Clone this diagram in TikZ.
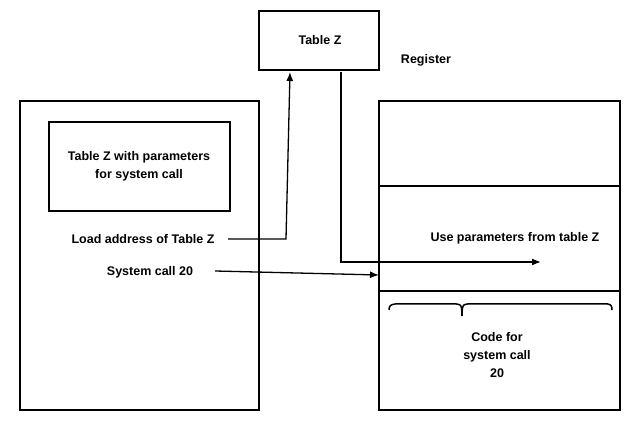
\documentclass[tikz,border=0pt]{standalone}
\usepackage{fontspec}
\setmainfont{Liberation Sans}
\usetikzlibrary{arrows.meta}
\begin{document}
\begin{tikzpicture}[x=1pt,y=-1pt,
  box/.style={draw,line width=1.5pt},
  lbl/.style={font=\bfseries\fontsize{12.5}{18}\selectfont,align=center},
  arr/.style={-{Latex[length=9pt,width=7pt]},line width=1.3pt}]
\useasboundingbox (0,0) rectangle (641,422);
\draw[box] (20,101) rectangle (259,410);
\draw[box] (49,122) rectangle (230,211);
\node[lbl] (tz) at (139,166) {Table Z with parameters\\for system call};
\node[lbl] (load) at (143,239) {Load address of Table Z};
\node[lbl] (sc) at (150,272) {System call 20};
\draw[box] (259,11) rectangle (379,70);
\node[lbl] (tabz) at (320,40) {Table Z};
\node[lbl] (reg) at (426,60) {Register};
\draw[box] (379,101) rectangle (620,410);
\draw[line width=1.5pt] (379,186) -- (620,186);
\draw[line width=1.5pt] (379,291) -- (620,291);
\node[lbl] (use) at (515,238) {Use parameters from table Z};
\node[lbl] (code) at (497,355) {Code for\\system call\\20};
\coordinate (a1) at (228,239);
\coordinate (a2) at (286,239);
\coordinate (a3) at (290,72);
\draw[arr] (a1) -- (a2) -- (a3);
\coordinate (b1) at (341,72);
\coordinate (b2) at (341,262);
\coordinate (b3) at (541,262);
\draw[arr] (b1) -- (b2) -- (b3);
\coordinate (c1) at (215,271);
\coordinate (c2) at (379,275);
\draw[arr] (c1) -- (c2);
\draw[line width=1.5pt] (389,310) .. controls (389,302) and (395,304) .. (420,304)
  -- (450,304) .. controls (460,304) and (462,302) .. (462,316)
  .. controls (462,302) and (464,304) .. (474,304)
  -- (590,304) .. controls (608,304) and (612,302) .. (612,310);
\end{tikzpicture}
\end{document}
